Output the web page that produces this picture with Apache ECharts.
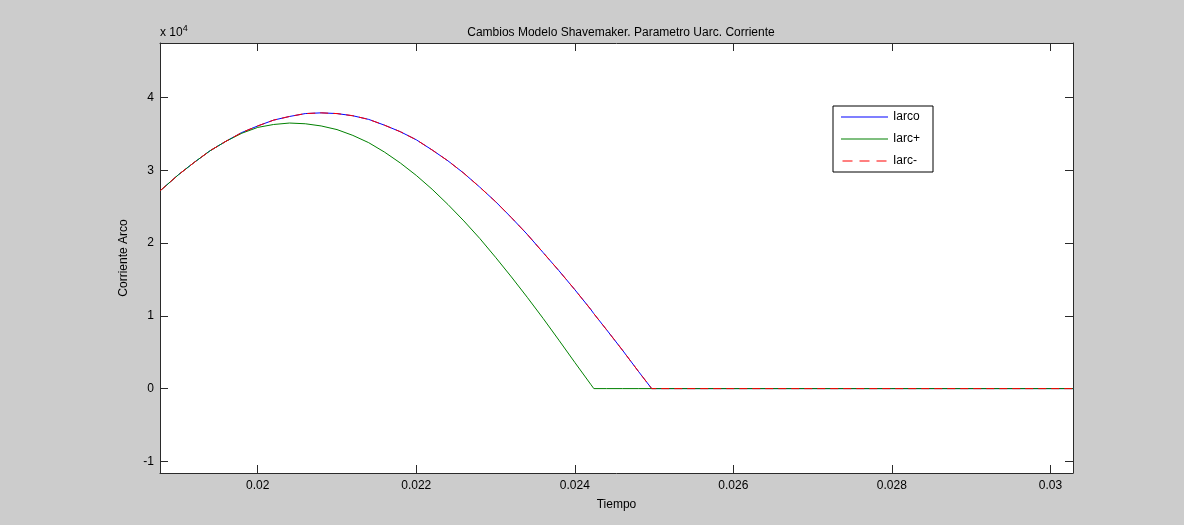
<!DOCTYPE html>
<html>
<head>
<meta charset="utf-8">
<script src="https://cdn.jsdelivr.net/npm/echarts@6/dist/echarts.min.js"></script>
<style>
html,body{margin:0;padding:0;background:#cccccc;}
#chart{width:1184px;height:525px;}
</style>
</head>
<body>
<div id="chart"></div>
<script>
// Time (s)
var tiempo = [0.01877, 0.0190, 0.0192, 0.0194, 0.0196, 0.0198, 0.0200, 0.0202, 0.0204, 0.0206,
  0.0208, 0.0210, 0.0212, 0.0214, 0.0216, 0.0218, 0.0220, 0.0222, 0.0224, 0.0226,
  0.0228, 0.0230, 0.0232, 0.0234, 0.0236, 0.0238, 0.0240, 0.0242, 0.02424, 0.0244,
  0.0246, 0.0248, 0.02497, 0.0260, 0.0280, 0.03029];
// Arc current (A)
var iarco = [27200, 29400, 31100, 32700, 34000, 35200, 36100, 36900, 37400, 37800,
  37900, 37800, 37500, 37000, 36200, 35300, 34200, 32800, 31300, 29600,
  27700, 25700, 23500, 21200, 18700, 16200, 13600, 10900, 10300, 8100,
  5300, 2400, 0, 0, 0, 0];
var iarcPlus = [27200, 29400, 31100, 32700, 34000, 35100, 35900, 36300, 36500, 36400,
  36100, 35600, 34800, 33800, 32500, 31000, 29300, 27400, 25300, 23050,
  20650, 18050, 15350, 12550, 9650, 6650, 3600, 600, 0, 0,
  0, 0, 0, 0, 0, 0];
var iarcMinus = iarco.slice();
var xTicks = [0.02, 0.022, 0.024, 0.026, 0.028, 0.03];
var yTicks = [-10000, 0, 10000, 20000, 30000, 40000];

function pairs(t, v){ return t.map(function(x,i){ return [x, v[i]]; }); }

var xMin = 0.018767, xMax = 0.030285, yMin = -11600, yMax = 47500;
var font = 'Liberation Sans, Arial, sans-serif';
var axisColor = '#2a2a2a';
var solidIcon = 'path://M0,0H47V1H0Z';
var dashIcon = 'path://M0,0H10V1H0Z M17,0H27V1H17Z M34,0H44V1H34Z';

var chart = echarts.init(document.getElementById('chart'));
chart.setOption({
  backgroundColor: '#cccccc',
  animation: false,
  title: {
    text: 'Cambios Modelo Shavemaker. Parametro Uarc. Corriente',
    left: 616, top: 22, textAlign: 'center',
    textStyle: {fontFamily: font, fontSize: 12, fontWeight: 'normal', color: '#000'}
  },
  grid: {left: 160, right: 111, top: 43, bottom: 52, show: true, backgroundColor: '#ffffff', borderWidth: 0},
  legend: {
    orient: 'vertical', left: 833, top: 106,
    backgroundColor: '#ffffff', borderColor: '#000', borderWidth: 1,
    padding: [4, 13, 4, 8], itemGap: 8, itemWidth: 47, itemHeight: 1,
    textStyle: {fontFamily: font, fontSize: 12, color: '#000', lineHeight: 14},
    data: [
      {name: 'Iarco', icon: solidIcon, itemStyle: {color: '#0000ff'}},
      {name: 'Iarc+', icon: solidIcon, itemStyle: {color: '#008000'}},
      {name: 'Iarc-', icon: dashIcon, itemStyle: {color: '#ff0000'}}
    ]
  },
  graphic: [{
    type: 'text', left: 160, top: 24,
    style: {
      text: 'x 10{s|4}', fontFamily: font, fontSize: 12, fill: '#000',
      rich: {s: {fontSize: 9, verticalAlign: 'top', padding: [0,0,8,0], fontFamily: font}}
    }
  }],
  xAxis: [{
    type: 'value', min: xMin, max: xMax, position: 'bottom',
    name: 'Tiempo', nameLocation: 'middle', nameGap: 26,
    nameTextStyle: {fontFamily: font, fontSize: 12, color: '#000'},
    axisLine: {show: true, onZero: false, lineStyle: {color: axisColor, width: 1}},
    axisTick: {show: true, inside: true, length: 8, customValues: xTicks, lineStyle: {color: axisColor}},
    axisLabel: {show: true, customValues: xTicks, margin: 7, fontFamily: font, fontSize: 12, color: '#000',
      formatter: function(v){ return String(Math.round(v*1000)/1000); }},
    splitLine: {show: false}
  }, {
    type: 'value', min: xMin, max: xMax, position: 'top',
    axisLine: {show: true, onZero: false, lineStyle: {color: axisColor, width: 1}},
    axisTick: {show: true, inside: true, length: 8, customValues: xTicks, lineStyle: {color: axisColor}},
    axisLabel: {show: false}, splitLine: {show: false}
  }],
  yAxis: [{
    type: 'value', min: yMin, max: yMax, position: 'left',
    name: 'Corriente Arco', nameLocation: 'middle', nameGap: 30, nameRotate: 90,
    nameTextStyle: {fontFamily: font, fontSize: 12, color: '#000'},
    axisLine: {show: true, onZero: false, lineStyle: {color: axisColor, width: 1}},
    axisTick: {show: true, inside: true, length: 8, customValues: yTicks, lineStyle: {color: axisColor}},
    axisLabel: {show: true, customValues: yTicks, margin: 6, fontFamily: font, fontSize: 12, color: '#000',
      formatter: function(v){ return String(Math.round(v/10000)); }},
    splitLine: {show: false}
  }, {
    type: 'value', min: yMin, max: yMax, position: 'right',
    axisLine: {show: true, onZero: false, lineStyle: {color: axisColor, width: 1}},
    axisTick: {show: true, inside: true, length: 8, customValues: yTicks, lineStyle: {color: axisColor}},
    axisLabel: {show: false}, splitLine: {show: false}
  }],
  series: [{
    name: 'Iarco', type: 'line', data: pairs(tiempo, iarco), symbol: 'none',
    lineStyle: {color: '#0000ff', width: 1}, itemStyle: {color: '#0000ff'}
  }, {
    name: 'Iarc+', type: 'line', data: pairs(tiempo, iarcPlus), symbol: 'none',
    lineStyle: {color: '#008000', width: 1}, itemStyle: {color: '#008000'}
  }, {
    name: 'Iarc-', type: 'line', data: pairs(tiempo, iarcMinus), symbol: 'none',
    lineStyle: {color: '#ff0000', width: 1, type: [8, 5]}, itemStyle: {color: '#ff0000'}
  }]
});
</script>
</body>
</html>
